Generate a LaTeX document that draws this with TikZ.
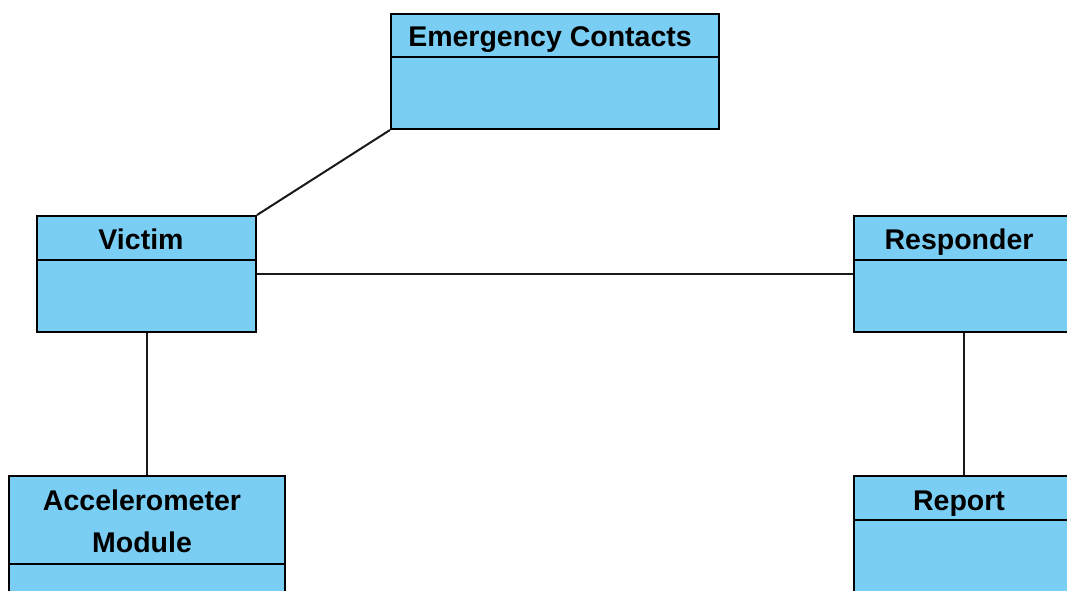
\documentclass[tikz,border=0pt]{standalone}
\usepackage{fontspec}
\setmainfont{Liberation Sans}
\definecolor{classfill}{RGB}{122,206,243}
\begin{document}
\begin{tikzpicture}[x=1pt,y=-1pt,
  classbox/.style={draw=black, fill=classfill, line width=2pt, inner sep=0pt},
  divider/.style={draw=black, line width=2pt},
  classtitle/.style={font=\bfseries\fontsize{28.5}{42}\selectfont, align=center, inner sep=0pt, anchor=base},
  assoc/.style={draw=black!90, line width=2pt}]
\path[use as bounding box] (0,0) rectangle (1067,590);
\clip (0,0) rectangle (1067,590);

% Emergency Contacts
\node[classbox, minimum width=328pt, minimum height=115pt] (ec) at (555,71.5) {};
\draw[divider] (391,57) -- (719,57);
\node[classtitle] (ect) at (550,46) {Emergency Contacts};

% Victim
\node[classbox, minimum width=219pt, minimum height=116pt] (vic) at (146.5,274) {};
\draw[divider] (37,260) -- (256,260);
\node[classtitle] (vict) at (141,249) {Victim};

% Responder
\node[classbox, minimum width=220pt, minimum height=116pt] (resp) at (964,274) {};
\draw[divider] (854,260) -- (1074,260);
\node[classtitle] (respt) at (959,249) {Responder};

% Accelerometer Module (baseline of the last line)
\node[classbox, minimum width=276pt, minimum height=180pt] (acc) at (146.5,566) {};
\draw[divider] (8.5,564) -- (284.5,564);
\node[classtitle] (acct) at (142,552) {Accelerometer\\Module};

% Report
\node[classbox, minimum width=220pt, minimum height=130pt] (rep) at (964,541) {};
\draw[divider] (854,520) -- (1074,520);
\node[classtitle] (rept) at (959,510) {Report};

% associations
\draw[assoc] (vic.north east) -- (ec.south west);
\draw[assoc] (vic.east) -- (resp.west);
\draw[assoc] (vic.south) -- (acc.north);
\draw[assoc] (resp.south) -- (rep.north);
\end{tikzpicture}
\end{document}
